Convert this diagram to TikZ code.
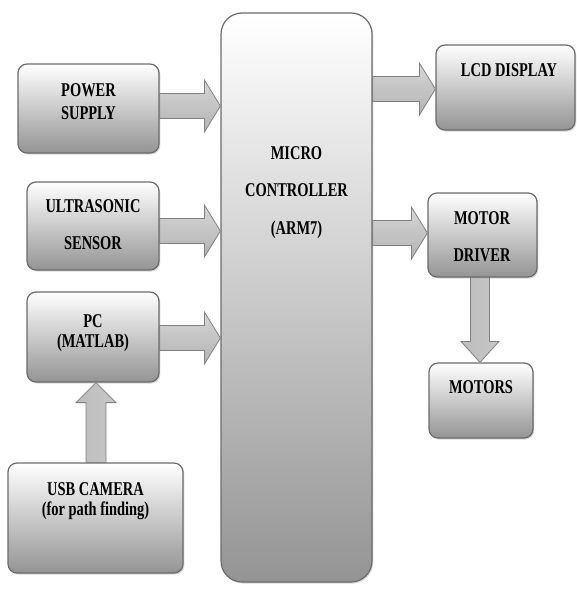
\documentclass[tikz,border=0pt]{standalone}
\usepackage{fontspec}
\setmainfont{Liberation Serif}[FakeStretch=0.74]
\usetikzlibrary{calc,shadows}
\tikzset{
  box/.style={draw=black!58, line width=1.2pt, rounded corners=9pt,
    top color=white, bottom color=black!42, inner sep=0pt,
    drop shadow={opacity=0.3, shadow xshift=1.3pt, shadow yshift=-1.6pt}},
  bigbox/.style={box, rounded corners=21pt},
  lbl/.style={align=center, inner sep=0pt, font=\fontsize{19.5}{23}\selectfont\bfseries},
  blockH/.style={draw=black!50, line width=0.8pt, line join=miter,
    top color=black!16, middle color=black!3, bottom color=black!30},
  blockV/.style={draw=black!50, line width=0.8pt, line join=miter,
    left color=black!26, middle color=black!4, right color=black!22},
}
% horizontal block arrow: from, to, node giving y, y shift
\newcommand\harr[4]{%
  \path[blockH] let \p1=(#1.east), \p2=(#2.west), \p3=(#3.center) in
    (\x1,\y3+#4+12.5pt) -- (\x2-16pt,\y3+#4+12.5pt) -- (\x2-16pt,\y3+#4+26pt)
    -- (\x2,\y3+#4) -- (\x2-16pt,\y3+#4-26pt) -- (\x2-16pt,\y3+#4-12.5pt)
    -- (\x1,\y3+#4-12.5pt) -- cycle;}
% downward block arrow
\newcommand\darr[4]{%
  \path[blockV] let \p1=(#1.south), \p2=(#2.north), \p3=(#3.center) in
    (\x3+#4-9.5pt,\y1) -- (\x3+#4-9.5pt,\y2+21pt) -- (\x3+#4-19pt,\y2+21pt)
    -- (\x3+#4,\y2) -- (\x3+#4+19pt,\y2+21pt) -- (\x3+#4+9.5pt,\y2+21pt)
    -- (\x3+#4+9.5pt,\y1) -- cycle;}
% upward block arrow
\newcommand\uarr[4]{%
  \path[blockV] let \p1=(#1.north), \p2=(#2.south), \p3=(#3.center) in
    (\x3+#4-10pt,\y1) -- (\x3+#4-10pt,\y2-20pt) -- (\x3+#4-20pt,\y2-20pt)
    -- (\x3+#4,\y2) -- (\x3+#4+20pt,\y2-20pt) -- (\x3+#4+10pt,\y2-20pt)
    -- (\x3+#4+10pt,\y1) -- cycle;}
\begin{document}
\begin{tikzpicture}[x=1pt,y=-1pt]
\useasboundingbox (0,0) rectangle (577,591);
% boxes
\node[box, minimum width=141pt, minimum height=89pt] (ps) at (88.5,108.5) {};
\node[box, minimum width=132pt, minimum height=88pt] (us) at (93,226) {};
\node[box, minimum width=132pt, minimum height=90pt] (pc) at (93,337) {};
\node[box, minimum width=175pt, minimum height=110pt] (usb) at (95.5,518) {};
\node[bigbox, minimum width=151pt, minimum height=569pt] (mc) at (296.5,297.5) {};
\node[box, minimum width=139pt, minimum height=85pt] (lcd) at (505.5,87.5) {};
\node[box, minimum width=109pt, minimum height=84pt] (md) at (482.5,235) {};
\node[box, minimum width=104pt, minimum height=75pt] (mot) at (481,400.5) {};
% labels
\node[lbl] (tps) at (88.5,101.5) {POWER\\SUPPLY};
\node[lbl, font=\fontsize{19.5}{37}\selectfont\bfseries] (tus) at (93,224.5) {ULTRASONIC\\SENSOR};
\node[lbl, font=\fontsize{19.5}{20}\selectfont\bfseries] (tpc) at (93,333) {PC\\(MATLAB)};
\node[lbl, font=\fontsize{19.5}{20}\selectfont\bfseries] (tusb) at (95.5,501) {USB CAMERA\\(for path finding)};
\node[lbl, font=\fontsize{19.5}{37.5}\selectfont\bfseries] (tmc) at (296.5,192.5) {MICRO\\CONTROLLER\\(ARM7)};
\node[lbl] (tlcd) at (509,70) {LCD DISPLAY};
\node[lbl, font=\fontsize{19.5}{37}\selectfont\bfseries] (tmd) at (482,236.5) {MOTOR\\DRIVER};
\node[lbl] (tmot) at (481,387) {MOTORS};
% block arrows
\harr{ps}{mc}{ps}{2.5pt}
\harr{us}{mc}{us}{-5pt}
\harr{pc}{mc}{pc}{-1pt}
\harr{mc}{lcd}{lcd}{-1.5pt}
\harr{mc}{md}{md}{2pt}
\darr{md}{mot}{mot}{-1pt}
\uarr{usb}{pc}{usb}{0.5pt}
\end{tikzpicture}
\end{document}
